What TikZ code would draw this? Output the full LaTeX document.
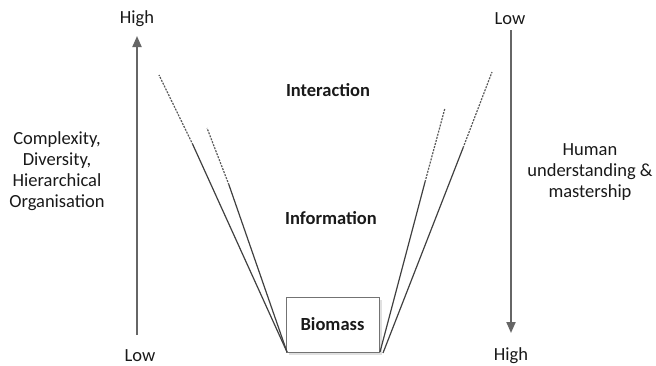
\documentclass[tikz,border=0pt]{standalone}
\usepackage{fontspec}
\setmainfont{Carlito}
\usetikzlibrary{arrows.meta}
\begin{document}
\begin{tikzpicture}[x=1pt,y=-1pt,
  lab/.style={font=\fontsize{18.5}{21}\selectfont, text=black!90, align=center, inner sep=0pt},
  blab/.style={lab, font=\fontsize{18.5}{21}\selectfont\bfseries},
  axis/.style={draw=black!60, line width=2pt, -{Triangle[length=11pt,width=9pt]}},
  solidline/.style={draw=black!75, line width=1.2pt},
  dashline/.style={draw=black!65, line width=1.2pt, dash pattern=on 2pt off 1.2pt},
  boxst/.style={draw=black!55, line width=1pt, fill=white, minimum width=93pt, minimum height=55pt, inner sep=0pt}]
\useasboundingbox (0,0) rectangle (656,365);
% axes
\coordinate (la0) at (137,335);
\coordinate (la1) at (137,36);
\draw[axis] (la0) -- (la1);
\coordinate (ra0) at (511,30);
\coordinate (ra1) at (511,333);
\draw[axis] (ra0) -- (ra1);
\node[lab] (lhigh) at (137,19) {High};
\node[lab] (llow) at (140,356) {Low};
\node[lab] (rlow) at (510,19) {Low};
\node[lab] (rhigh) at (511,356) {High};
% box shadow and box
\fill[black!12] (289,300) rectangle (382,355);
\node[boxst] (bio) at (332.5,324.5) {};
\node[blab] (biot) at (332.5,324) {Biomass};
% left lines
\coordinate (lb) at (287,352);
\coordinate (lo1) at (193,145);
\coordinate (lo2) at (159,75);
\coordinate (li1) at (229,185);
\coordinate (li2) at (207,128);
\draw[solidline] (lb) -- (lo1);
\draw[dashline] (lo1) -- (lo2);
\draw[solidline] (lb) -- (li1);
\draw[dashline] (li1) -- (li2);
% right lines
\coordinate (rbi) at (380,352);
\coordinate (rbo) at (383,353);
\coordinate (ri1) at (425,182);
\coordinate (ri2) at (445,108);
\coordinate (ro1) at (463,148);
\coordinate (ro2) at (492,72);
\draw[solidline] (rbi) -- (ri1);
\draw[dashline] (ri1) -- (ri2);
\draw[solidline] (rbo) -- (ro1);
\draw[dashline] (ro1) -- (ro2);
% labels
\node[blab] (inter) at (328,90) {Interaction};
\node[blab] (info) at (331,218) {Information};
\node[lab] (left) at (57,171) {Complexity,\\Diversity,\\Hierarchical\\Organisation};
\node[lab] (right) at (590,172) {Human\\understanding \&\\mastership};
\end{tikzpicture}
\end{document}
